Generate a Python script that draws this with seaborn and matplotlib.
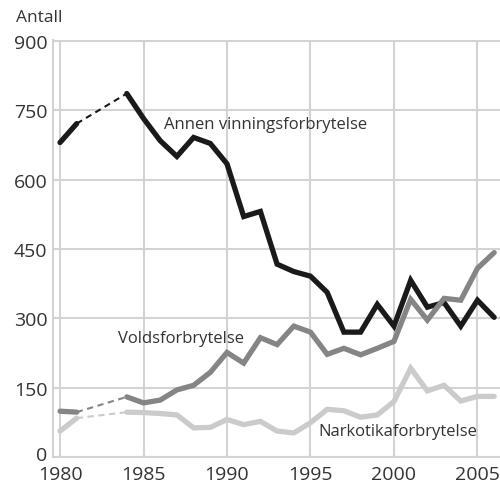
import numpy as np
import pandas as pd
import matplotlib.pyplot as plt
import matplotlib.transforms as mtrans
from matplotlib.ticker import MultipleLocator
import seaborn as sns

years = [1980, 1981, 1984, 1985, 1986, 1987, 1988, 1989, 1990, 1991, 1992, 1993,
         1994, 1995, 1996, 1997, 1998, 1999, 2000, 2001, 2002, 2003, 2004, 2005, 2006]

annen = [680, 721, 786, 732, 684, 650, 691, 678, 634, 520, 531, 417,
         401, 391, 356, 270, 270, 330, 283, 382, 324, 334, 283, 339, 302]
vold = [99, 97, 130, 117, 123, 145, 155, 183, 226, 203, 258, 243,
        283, 270, 222, 235, 221, 235, 250, 341, 296, 343, 339, 408, 442]
narko = [56, 84, 97, 96, 94, 91, 63, 64, 81, 70, 77, 56,
         52, 74, 103, 100, 86, 91, 120, 192, 143, 155, 121, 131, 131]

series_names = ["Annen vinningsforbrytelse", "Voldsforbrytelse", "Narkotikaforbrytelse"]
series_colors = ["#1a1a1a", "#858585", "#cbcbcb"]
gap_years = (1981, 1984)  # no data for 1982-1983, bridged with a dashed line

df = pd.DataFrame({"year": years,
                   series_names[0]: annen,
                   series_names[1]: vold,
                   series_names[2]: narko})
long = df.melt(id_vars="year", var_name="serie", value_name="antall")

sns.set_style("white")
plt.rcParams["font.family"] = ["Open Sans", "DejaVu Sans"]

fig = plt.figure(figsize=(5, 4.85), dpi=100)
ax = fig.add_axes([0.106, 0.0557, 0.894, 0.86])

grid_col = "#d3d3d3"
text_col = "#333333"

for name, col in zip(series_names, series_colors):
    d = long[long.serie == name]
    early = d[d.year <= gap_years[0]]
    late = d[d.year >= gap_years[1]]
    bridge = d[d.year.isin(gap_years)]
    sns.lineplot(data=early, x="year", y="antall", color=col, lw=3.8, ax=ax,
                 solid_joinstyle="miter", zorder=3)
    sns.lineplot(data=late, x="year", y="antall", color=col, lw=3.8, ax=ax,
                 solid_joinstyle="miter", zorder=3)
    sns.lineplot(data=bridge, x="year", y="antall", color=col, lw=1.5, ax=ax,
                 linestyle=(0, (3, 2.2)), zorder=3)

ax.set_xlim(1979.58, 2006.35)
ax.set_ylim(0, 902)
ax.set_xlabel("")
ax.set_ylabel("")

ax.xaxis.set_major_locator(MultipleLocator(5))
ax.xaxis.set_minor_locator(MultipleLocator(1))
ax.set_yticks([0, 150, 300, 450, 600, 750, 900])
ax.grid(True, which="major", color=grid_col, lw=1.5, zorder=0)
ax.set_axisbelow(True)

ax.tick_params(axis="x", which="major", length=0, pad=5.5, labelsize=14, labelcolor=text_col)
ax.tick_params(axis="x", which="minor", direction="in", length=5.5, width=1.5, color=grid_col)
ax.tick_params(axis="y", which="major", length=0, pad=4, labelsize=14, labelcolor=text_col)

# lift the "0" label a few pixels so it clears "1980"
zero = ax.yaxis.get_major_ticks()[0].label1
zero.set_transform(zero.get_transform() + mtrans.ScaledTranslation(0, 4 / 100, fig.dpi_scale_trans))

for s in ["top", "right"]:
    ax.spines[s].set_visible(False)
for s in ["left", "bottom"]:
    ax.spines[s].set_color(grid_col)
    ax.spines[s].set_linewidth(1.5)

ax.text(1986.2, 721, series_names[0], fontsize=12, color=text_col, va="center")
ax.text(1983.45, 257, series_names[1], fontsize=12, color=text_col, va="center")
ax.text(1995.5, 56, series_names[2], fontsize=12, color=text_col, va="center")

fig.text(0.032, 1 - 18 / 485, "Antall", fontsize=12.5, color=text_col, va="center")

fig.savefig("out.png", dpi=100)
